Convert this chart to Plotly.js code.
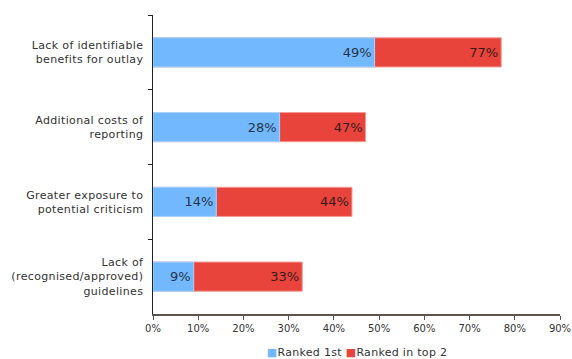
<!DOCTYPE html>
<html>
<head>
<meta charset="utf-8">
<script src="https://cdn.plot.ly/plotly-3.0.1.min.js"></script>
<style>
  html, body { margin: 0; padding: 0; background: #fff; }
  #chart { width: 572px; height: 359px; }
  /* slightly airier spacing, like Verdana */
  #chart .ytick text { letter-spacing: 0.35px; }
  #chart .annotation-text { letter-spacing: 0.3px; }
</style>
</head>
<body>
<div id="chart"></div>
<script>
// Barriers to reporting, top to bottom
const categories = [
  'Lack of identifiable<br>benefits for outlay',
  'Additional costs of<br>reporting',
  'Greater exposure to<br>potential criticism',
  'Lack of<br>(recognised/approved)<br>guidelines'
];
// Share of respondents (%)
const rankedFirst = [49, 28, 14, 9];
const rankedTop2 = [77, 47, 44, 33];
const xTickVals = [0, 10, 20, 30, 40, 50, 60, 70, 80, 90];
const seriesNames = ['Ranked 1st', 'Ranked in top 2'];
const seriesColors = ['#72b8ff', '#e8443c'];

const pct = v => v + '%';

// Top-2 bar is drawn full length, the 1st-ranked bar is laid over it
const traces = [
  {
    type: 'bar', orientation: 'h', name: seriesNames[1],
    y: categories, x: rankedTop2,
    text: rankedTop2.map(pct), textposition: 'inside', insidetextanchor: 'end',
    textfont: { family: 'DejaVu Sans, Verdana, sans-serif', size: 13, color: '#3a1a18' },
    marker: { color: seriesColors[1], line: { color: '#f29a94', width: 1 } },
    width: 0.39, hoverinfo: 'skip'
  },
  {
    type: 'bar', orientation: 'h', name: seriesNames[0],
    y: categories, x: rankedFirst,
    text: rankedFirst.map(pct), textposition: 'inside', insidetextanchor: 'end',
    textfont: { family: 'DejaVu Sans, Verdana, sans-serif', size: 13, color: '#263445' },
    marker: { color: seriesColors[0], line: { color: '#a9d4ff', width: 1 } },
    width: 0.39, hoverinfo: 'skip'
  }
];

// Compact key below the axis: small coloured squares followed by the names
const keyText = seriesNames.map((n, i) =>
  '<span style="color:' + seriesColors[i] + '">■</span>' + n).join(' ');

const layout = {
  width: 572, height: 359,
  margin: { l: 153, r: 12, t: 15, b: 45 },
  paper_bgcolor: '#fff', plot_bgcolor: '#fff',
  barmode: 'overlay',
  showlegend: false,
  font: { family: 'DejaVu Sans, Verdana, sans-serif', size: 10, color: '#333' },
  xaxis: {
    range: [0, 90], tickvals: xTickVals, ticktext: xTickVals.map(pct),
    showgrid: false, zeroline: false,
    showline: true, linecolor: '#5e5450', linewidth: 1.5,
    ticks: 'outside', ticklen: 4, tickcolor: '#5e5450',
    tickfont: { size: 10, color: '#333' }
  },
  yaxis: {
    type: 'category', autorange: 'reversed',
    showgrid: false, zeroline: false,
    showline: true, linecolor: '#222', linewidth: 1.5,
    ticks: 'outside', ticklen: 4, tickcolor: '#222', tickson: 'boundaries',
    tickfont: { size: 11, color: '#333' }, ticklabelstandoff: 6
  },
  annotations: [{
    xref: 'paper', yref: 'paper', x: 0.5, y: -0.13,
    xanchor: 'center', yanchor: 'middle', showarrow: false,
    text: keyText, font: { size: 11, color: '#333' }
  }]
};

Plotly.newPlot('chart', traces, layout, { displayModeBar: false, staticPlot: true });
</script>
</body>
</html>
